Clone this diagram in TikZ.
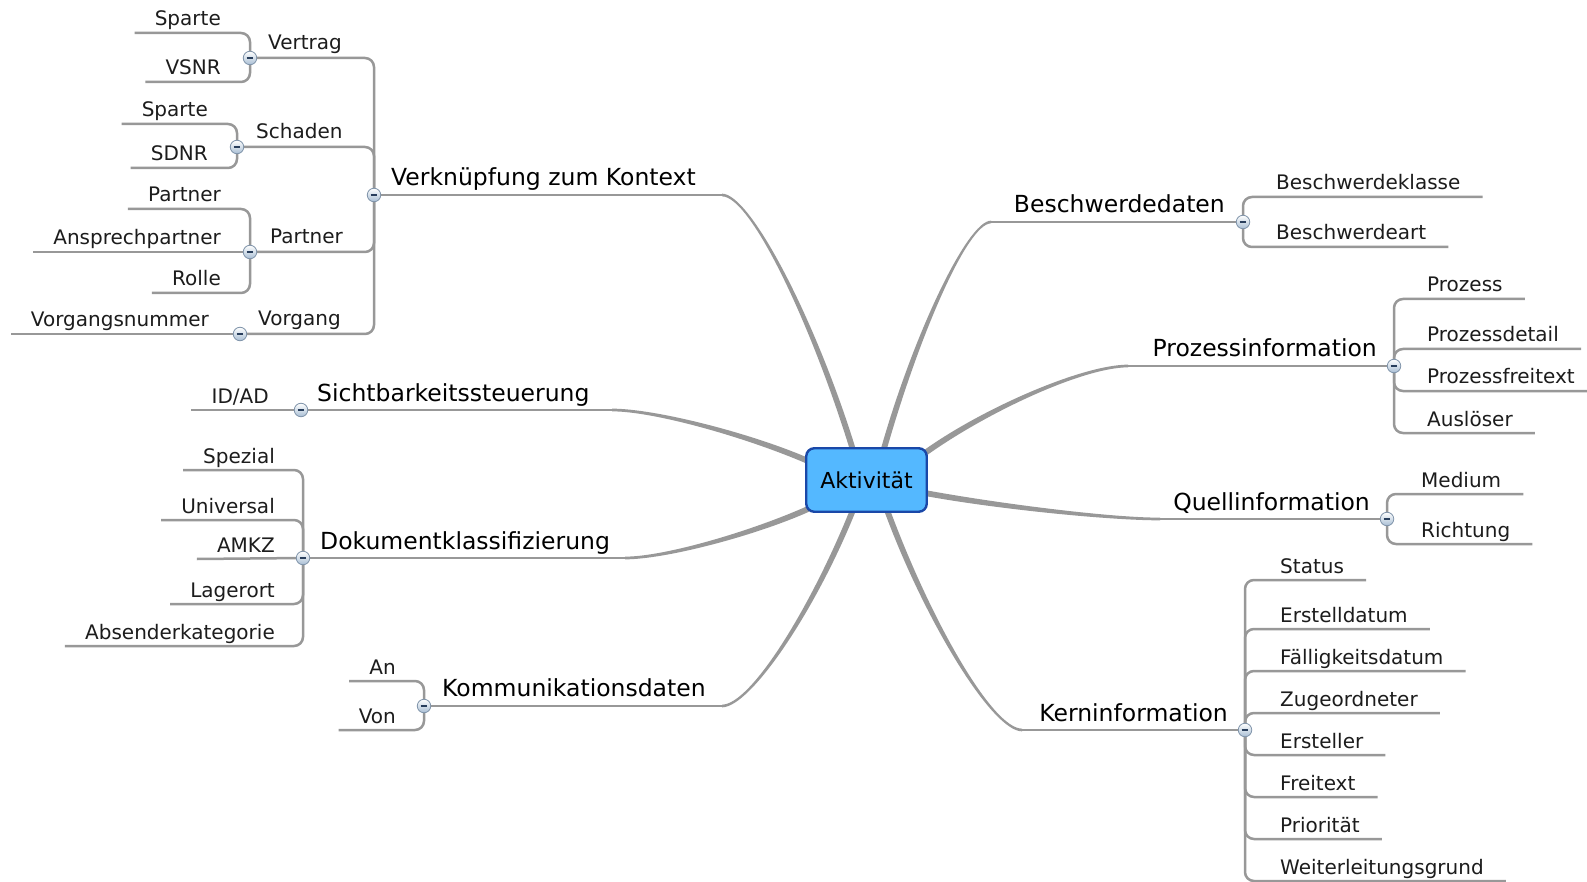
\documentclass[tikz,border=0pt]{standalone}
\usepackage{fontspec}
\setmainfont{DejaVu Sans}
\usetikzlibrary{calc}
\pgfdeclarelayer{back}
\pgfdeclarelayer{lines}
\pgfsetlayers{back,lines,main}

\definecolor{branchgray}{RGB}{152,152,152}
\definecolor{rootfill}{RGB}{84,184,255}
\definecolor{rootdraw}{RGB}{26,72,168}
\definecolor{knobdraw}{RGB}{128,148,170}
\definecolor{knobfill}{RGB}{168,190,212}
\definecolor{knobminus}{RGB}{40,62,92}
\definecolor{leaftext}{RGB}{28,28,28}

\tikzset{
  leaf/.style={inner sep=0pt, text=leaftext, font=\fontsize{20}{24}\selectfont},
  topic/.style={inner sep=0pt, text=black, font=\fontsize{23.5}{28}\selectfont},
  root/.style={draw=rootdraw, line width=2.4pt, fill=rootfill, rounded corners=8pt,
    minimum width=120.5pt, minimum height=63.5pt, inner sep=0pt,
    font=\fontsize{22}{26}\selectfont},
  knob/.style={circle, inner sep=0pt, minimum size=13.5pt, draw=knobdraw, line width=0.8pt,
    top color=white, bottom color=knobfill,
    path picture={\draw[knobminus, line width=1.7pt]
      ($(path picture bounding box.center)+(-3.4pt,0)$) -- ++(6.8pt,0);}},
  childline/.style={draw=branchgray, line width=2.5pt, rounded corners=9pt},
  topicline/.style={draw=branchgray, line width=2.7pt},
  branchfill/.style={fill=branchgray},
}

% tapered main branch from #1 (at the root) to #2 (start of the topic underline)
\newcommand\mmbranch[2]{%
  \coordinate (bX) at ($(#1)!0.3!(#2)$);
  \coordinate (bY) at ($(#1)!0.5!(#2)$);
  \coordinate (bA) at (bX |- bY);
  \coordinate (bB) at ($(#2)!0.22!(#1 |- #2)$);
  \fill[branchfill]
    ($(#1)!2.9pt!90:(bA)$) .. controls ($(bA)!2.9pt!-90:(#1)$) and ($(bB)!1.35pt!90:(#2)$)
    .. ($(#2)!1.35pt!-90:(bB)$) -- ($(#2)!1.35pt!90:(bB)$)
    .. controls ($(bB)!1.35pt!-90:(#2)$) and ($(bA)!2.9pt!90:(#1)$)
    .. ($(#1)!2.9pt!-90:(bA)$) -- cycle;
}

\begin{document}
\begin{tikzpicture}[x=1pt,y=-1pt]
\useasboundingbox (0,0) rectangle (1587,882);
\begin{pgfonlayer}{back}
  \fill[white] (0,0) rectangle (1587,882);
\end{pgfonlayer}

% central topic
\node[root] (act) at (866.5,480) {Aktivität};

% collapse knobs
\node[knob] (k-bd) at (1243,222) {};
\node[knob] (k-pi) at (1394,366) {};
\node[knob] (k-qi) at (1387,519) {};
\node[knob] (k-ki) at (1245,730) {};
\node[knob] (k-vk) at (374,195) {};
\node[knob] (k-sb) at (301,410) {};
\node[knob] (k-dk) at (303,558) {};
\node[knob] (k-ko) at (424,706) {};
\node[knob] (k-vt) at (250,58) {};
\node[knob] (k-sd) at (237,147) {};
\node[knob] (k-pa) at (250,252) {};
\node[knob] (k-vg) at (240,334) {};

% main topics
\node[topic, anchor=base east] (t-bd) at (1225,213) {Beschwerdedaten};
\node[topic, anchor=base east] (t-pi) at (1377,357) {Prozessinformation};
\node[topic, anchor=base east] (t-qi) at (1370,510) {Quellinformation};
\node[topic, anchor=base east] (t-ki) at (1228,721) {Kerninformation};
\node[topic, anchor=base west] (t-vk) at (391,186) {Verknüpfung zum Kontext};
\node[topic, anchor=base west] (t-sb) at (317,401) {Sichtbarkeitssteuerung};
\node[topic, anchor=base west] (t-dk) at (320,549) {Dokumentklassifizierung};
\node[topic, anchor=base west] (t-ko) at (442,696) {Kommunikationsdaten};

% second level under "Verknüpfung zum Kontext"
\node[leaf, anchor=base west] (m-vt) at (268,50) {Vertrag};
\node[leaf, anchor=base west] (m-sd) at (256,139) {Schaden};
\node[leaf, anchor=base west] (m-pa) at (270,244) {Partner};
\node[leaf, anchor=base west] (m-vg) at (258,326) {Vorgang};

% leaves, right side
\node[leaf, anchor=base west] (l-bk) at (1276,190) {Beschwerdeklasse};
\node[leaf, anchor=base west] (l-ba) at (1276,240) {Beschwerdeart};
\node[leaf, anchor=base west] (l-pz) at (1427,292) {Prozess};
\node[leaf, anchor=base west] (l-pd) at (1427,342) {Prozessdetail};
\node[leaf, anchor=base west] (l-pf) at (1427,384) {Prozessfreitext};
\node[leaf, anchor=base west] (l-au) at (1427,426) {Auslöser};
\node[leaf, anchor=base west] (l-me) at (1421,487) {Medium};
\node[leaf, anchor=base west] (l-ri) at (1421,537) {Richtung};
\node[leaf, anchor=base west] (l-st) at (1280,573) {Status};
\node[leaf, anchor=base west] (l-ed) at (1280,622) {Erstelldatum};
\node[leaf, anchor=base west] (l-fd) at (1280,664) {Fälligkeitsdatum};
\node[leaf, anchor=base west] (l-zo) at (1280,706) {Zugeordneter};
\node[leaf, anchor=base west] (l-er) at (1280,748) {Ersteller};
\node[leaf, anchor=base west] (l-ft) at (1280,790) {Freitext};
\node[leaf, anchor=base west] (l-pr) at (1280,832) {Priorität};
\node[leaf, anchor=base west] (l-wg) at (1280,874) {Weiterleitungsgrund};

% leaves, left side
\node[leaf, anchor=base east] (l-sp1) at (221,26) {Sparte};
\node[leaf, anchor=base east] (l-vs) at (221,75) {VSNR};
\node[leaf, anchor=base east] (l-sp2) at (208,117) {Sparte};
\node[leaf, anchor=base east] (l-sn) at (208,161) {SDNR};
\node[leaf, anchor=base east] (l-pt) at (221,202) {Partner};
\node[leaf, anchor=base east] (l-ap) at (221,245) {Ansprechpartner};
\node[leaf, anchor=base east] (l-ro) at (221,286) {Rolle};
\node[leaf, anchor=base east] (l-vn) at (209,327) {Vorgangsnummer};
\node[leaf, anchor=base east] (l-id) at (269,403) {ID/AD};
\node[leaf, anchor=base east] (l-sz) at (275,463) {Spezial};
\node[leaf, anchor=base east] (l-un) at (275,513) {Universal};
\node[leaf, anchor=base east] (l-am) at (275,552) {AMKZ};
\node[leaf, anchor=base east] (l-lo) at (275,597) {Lagerort};
\node[leaf, anchor=base east] (l-ab) at (275,639) {Absenderkategorie};
\node[leaf, anchor=base east] (l-an) at (396,674) {An};
\node[leaf, anchor=base east] (l-vo) at (396,723) {Von};

% branch ends at the root and at the topics
\coordinate (s-bd) at (883,452);   \coordinate (e-bd) at (991,222);
\coordinate (s-pi) at (925,453);   \coordinate (e-pi) at (1128,366);
\coordinate (s-qi) at (925,493);   \coordinate (e-qi) at (1160,519);
\coordinate (s-ki) at (887,510);   \coordinate (e-ki) at (1022,730);
\coordinate (s-vk) at (853,450);   \coordinate (e-vk) at (722,195);
\coordinate (s-sb) at (808,461);   \coordinate (e-sb) at (612,410);
\coordinate (s-dk) at (808,509);   \coordinate (e-dk) at (625,558);
\coordinate (s-ko) at (853,510);   \coordinate (e-ko) at (722,706);

\begin{pgfonlayer}{lines}
  % main branches with their underlines
  \foreach \b in {bd,pi,qi,ki,vk,sb,dk,ko}{
    \mmbranch{s-\b}{e-\b}
    \draw[topicline] (e-\b) -- (k-\b.center);
  }

  % second level of "Verknüpfung zum Kontext"
  \foreach \m in {k-vt,k-sd,k-pa,k-vg}
    \draw[childline] (k-vk.center) |- (\m.center);

  % right-hand leaves
  \foreach \l in {l-bk,l-ba}
    \draw[childline] (k-bd.center) |- ($(\l.base east)+(22,7)$);
  \foreach \l in {l-pz,l-pd,l-pf,l-au}
    \draw[childline] (k-pi.center) |- ($(\l.base east)+(22,7)$);
  \foreach \l in {l-me,l-ri}
    \draw[childline] (k-qi.center) |- ($(\l.base east)+(22,7)$);
  \foreach \l in {l-st,l-ed,l-fd,l-zo,l-er,l-ft,l-pr,l-wg}
    \draw[childline] (k-ki.center) |- ($(\l.base east)+(22,7)$);

  % left-hand leaves
  \foreach \l in {l-sp1,l-vs}
    \draw[childline] (k-vt.center) |- ($(\l.base west)+(-20,7)$);
  \foreach \l in {l-sp2,l-sn}
    \draw[childline] (k-sd.center) |- ($(\l.base west)+(-20,7)$);
  \foreach \l in {l-pt,l-ro}
    \draw[childline] (k-pa.center) |- ($(\l.base west)+(-20,7)$);
  \draw[childline] (k-pa.center) -- ($(l-ap.base west)+(-20,7)$);
  \draw[childline] (k-vg.center) -- ($(l-vn.base west)+(-20,7)$);
  \draw[childline] (k-sb.center) -- ($(l-id.base west)+(-20,7)$);
  \foreach \l in {l-sz,l-un,l-lo,l-ab}
    \draw[childline] (k-dk.center) |- ($(\l.base west)+(-20,7)$);
  \draw[childline] (k-dk.center) -- ($(l-am.base west)+(-20,7)$);
  \foreach \l in {l-an,l-vo}
    \draw[childline] (k-ko.center) |- ($(\l.base west)+(-20,7)$);
\end{pgfonlayer}
\end{tikzpicture}
\end{document}
